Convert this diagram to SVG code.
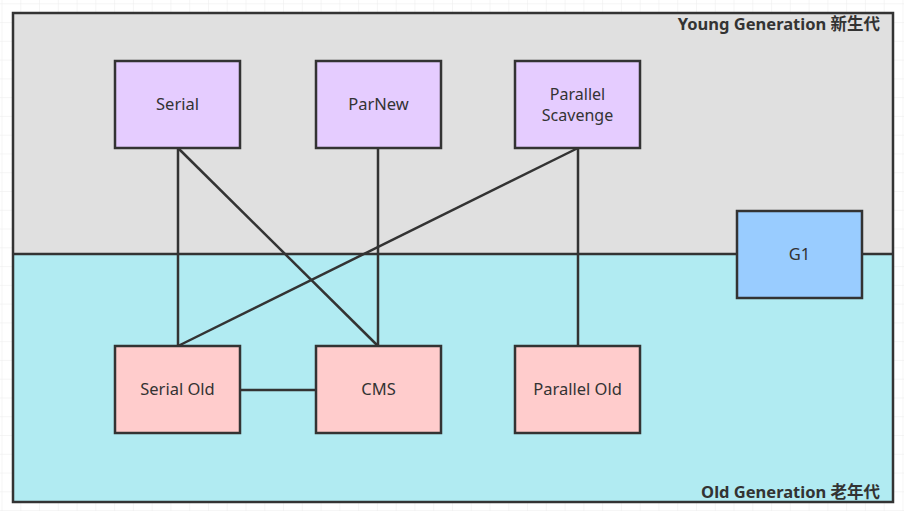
<svg xmlns="http://www.w3.org/2000/svg" width="904" height="511" viewBox="0 0 904 511">
<defs>
<pattern id="grid" x="1.5" y="3.3" width="18.77" height="18.77" patternUnits="userSpaceOnUse">
<path d="M0 0H18.77M0 0V18.77" fill="none" stroke="#ececec" stroke-width="1"/>
</pattern>
</defs>
<style>
.node rect{stroke:#333;stroke-width:2.5}
.young{fill:#e5ccff}
.old{fill:#ffcccc}
.g1{fill:#99ccff}
.lbl{font-family:"Noto Sans","Noto Sans CJK SC",sans-serif;font-size:16.5px;fill:#333;text-anchor:middle}
.small{font-size:16px}
.gen{font-family:"Noto Sans","Noto Sans CJK SC",sans-serif;font-size:16.5px;font-weight:bold;fill:#333;text-anchor:end}
.conn line{stroke:#333;stroke-width:2.5}
</style>
<rect width="904" height="511" fill="#ffffff"/>
<rect width="904" height="511" fill="url(#grid)"/>
<g id="regions">
<rect x="13" y="13" width="880" height="241" fill="#e0e0e0"/>
<rect x="13" y="254" width="880" height="248" fill="#b1ebf2"/>
<rect x="13" y="13" width="880" height="489" fill="none" stroke="#333" stroke-width="2.5"/>
<line x1="13" y1="254" x2="893" y2="254" stroke="#333" stroke-width="2.5"/>
<text class="gen" x="880" y="30">Young Generation 新生代</text>
<text class="gen" x="880" y="498">Old Generation 老年代</text>
</g>
<g id="connectors" class="conn">
<line x1="178" y1="148" x2="178" y2="346"/>
<line x1="178" y1="148" x2="378" y2="346"/>
<line x1="378" y1="148" x2="378" y2="346"/>
<line x1="578" y1="148" x2="178" y2="346"/>
<line x1="578" y1="148" x2="578" y2="346"/>
<line x1="240" y1="390" x2="316" y2="390"/>
</g>
<g id="serial" class="node"><rect class="young" x="115" y="61" width="125" height="87"/><text class="lbl" x="177.5" y="110">Serial</text></g>
<g id="parnew" class="node"><rect class="young" x="316" y="61" width="125" height="87"/><text class="lbl" x="378.5" y="110">ParNew</text></g>
<g id="parallel-scavenge" class="node"><rect class="young" x="515" y="61" width="125" height="87"/><text class="lbl small" x="577.5" y="100">Parallel</text><text class="lbl small" x="577.5" y="121">Scavenge</text></g>
<g id="g1" class="node"><rect class="g1" x="737" y="211" width="125" height="87"/><text class="lbl" x="799.5" y="260">G1</text></g>
<g id="serial-old" class="node"><rect class="old" x="115" y="346" width="125" height="87"/><text class="lbl" x="177.5" y="395">Serial Old</text></g>
<g id="cms" class="node"><rect class="old" x="316" y="346" width="125" height="87"/><text class="lbl" x="378.5" y="395">CMS</text></g>
<g id="parallel-old" class="node"><rect class="old" x="515" y="346" width="125" height="87"/><text class="lbl" x="577.5" y="395">Parallel Old</text></g>
</svg>
